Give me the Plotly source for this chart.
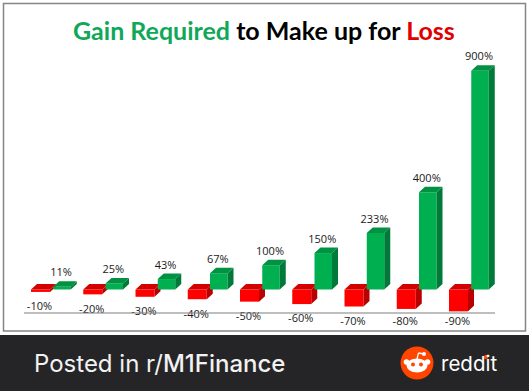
import plotly.graph_objects as go

# ---- data ----
losses = [-10, -20, -30, -40, -50, -60, -70, -80, -90]
gains = [11, 25, 43, 67, 100, 150, 233, 400, 900]
loss_labels = ["-10%", "-20%", "-30%", "-40%", "-50%", "-60%", "-70%", "-80%", "-90%"]
gain_labels = ["11%", "25%", "43%", "67%", "100%", "150%", "233%", "400%", "900%"]

W, H = 529, 391
PX_PER_X = 52.25
PX_PER_Y = 0.243
X_ORIGIN_PX = 40.5
Y_ORIGIN_PX = 289.5

x_range = [-X_ORIGIN_PX / PX_PER_X, (W - X_ORIGIN_PX) / PX_PER_X]
y_range = [-(H - Y_ORIGIN_PX) / PX_PER_Y, Y_ORIGIN_PX / PX_PER_Y]

RED_W = 19 / PX_PER_X
GREEN_W = 17.5 / PX_PER_X
GREEN_SHIFT = 21.5 / PX_PER_X
DX = 6 / PX_PER_X
DY = 5.5 / PX_PER_Y

idx = list(range(len(losses)))
green_x = [i + GREEN_SHIFT for i in idx]


def faces(xs, vals, width):
    side_x, side_y, top_x, top_y = [], [], [], []
    for x, v in zip(xs, vals):
        l, r = x - width / 2, x + width / 2
        high = max(0, v)
        side_x += [r, r + DX, r + DX, r, r, None]
        side_y += [0, DY, v + DY, v, 0, None]
        top_x += [l, l + DX, r + DX, r, l, None]
        top_y += [high, high + DY, high + DY, high, high, None]
    return side_x, side_y, top_x, top_y


def poly(x, y, color, xa, ya):
    return go.Scatter(x=x, y=y, mode="lines", fill="toself", fillcolor=color,
                      line=dict(width=0, color=color), hoverinfo="skip",
                      showlegend=False, xaxis=xa, yaxis=ya)


fig = go.Figure()

# losses on the lower axes pair
rs_x, rs_y, rt_x, rt_y = faces(idx, losses, RED_W)
fig.add_trace(go.Bar(x=idx, y=losses, width=RED_W, marker=dict(color="#FF0000", line=dict(width=0)),
                     showlegend=False, name="Loss", xaxis="x", yaxis="y"))
fig.add_trace(poly(rs_x, rs_y, "#B80000", "x", "y"))
fig.add_trace(poly(rt_x, rt_y, "#D40000", "x", "y"))

# gains on an overlaid pair, so they sit in front of the red depth faces
gs_x, gs_y, gt_x, gt_y = faces(green_x, gains, GREEN_W)
fig.add_trace(go.Bar(x=green_x, y=gains, width=GREEN_W, marker=dict(color="#00B050", line=dict(width=0)),
                     showlegend=False, name="Gain", xaxis="x2", yaxis="y2"))
fig.add_trace(poly(gs_x, gs_y, "#007A38", "x2", "y2"))
fig.add_trace(poly(gt_x, gt_y, "#009142", "x2", "y2"))

label_font = dict(family="Open Sans, sans-serif", size=11, color="#1a1a1a")
fig.add_trace(go.Scatter(x=[x - 1 / PX_PER_X for x in green_x], y=[v + 54 for v in gains],
                         text=gain_labels, mode="text", textposition="middle center",
                         textfont=label_font, showlegend=False, hoverinfo="skip",
                         xaxis="x2", yaxis="y2"))
fig.add_trace(go.Scatter(x=[i - 0.02 for i in idx], y=[max(v - 64, -134) for v in losses],
                         text=loss_labels, mode="text", textposition="middle center",
                         textfont=label_font, showlegend=False, hoverinfo="skip",
                         xaxis="x2", yaxis="y2"))


def px(x):
    return x / W


def py(y):
    return 1 - y / H


def rect(x0, y0, x1, y1, **kw):
    return dict(type="rect", xref="paper", yref="paper", x0=px(x0), x1=px(x1), y0=py(y0), y1=py(y1), **kw)


def oval(cx, cy, rx, ry, color):
    return dict(type="circle", xref="paper", yref="paper", x0=px(cx - rx), x1=px(cx + rx),
                y0=py(cy - ry), y1=py(cy + ry), fillcolor=color, line=dict(width=0))


def line(x0, y0, x1, y1, color, width):
    return dict(type="line", xref="paper", yref="paper", x0=px(x0), x1=px(x1), y0=py(y0), y1=py(y1),
                line=dict(color=color, width=width))


LOGO = "#FF4500"
shapes = [
    rect(3.5, 3.5, 525.5, 331, line=dict(color="#858585", width=1.5), fillcolor="rgba(0,0,0,0)", layer="below"),
    line(24, 313, 495, 313, "#7f7f7f", 1.2),
    rect(0, 335, W, H, fillcolor="#252527", line=dict(width=0)),
    oval(417, 363, 16.5, 16.5, LOGO),
    oval(417, 365.5, 10.5, 7, "#FFFFFF"),
    oval(406.5, 362, 2.8, 2.8, "#FFFFFF"),
    oval(427.5, 362, 2.8, 2.8, "#FFFFFF"),
    oval(413, 364.5, 2, 2, LOGO),
    oval(421, 364.5, 2, 2, LOGO),
    oval(424, 354, 2, 2, "#FFFFFF"),
    line(417, 359, 418.5, 353, "#FFFFFF", 1.3),
    line(418.5, 353, 424, 354, "#FFFFFF", 1.3),
    oval(486, 357, 2.2, 2.2, LOGO),
]

annotations = [
    dict(xref="paper", yref="paper", x=px(264), y=py(30), xanchor="center", yanchor="middle", showarrow=False,
         font=dict(family="Lato, Carlito, sans-serif", size=25, color="#000000"),
         text='<b><span style="color:#10A858">Gain Required</span> to Make up for '
              '<span style="color:#E00000">Loss</span></b>'),
    dict(xref="paper", yref="paper", x=px(32), y=py(363), xanchor="left", yanchor="middle", showarrow=False,
         font=dict(family="Inter, sans-serif", size=24, color="#F2F2F2"),
         text='Posted in r/<span style="font-weight:500">M1Finance</span>'),
    dict(xref="paper", yref="paper", x=px(439), y=py(363), xanchor="left", yanchor="middle", showarrow=False,
         font=dict(family="Inter, sans-serif", size=20.5, color="#FFFFFF"),
         text='<span style="font-weight:400">reddit</span>'),
]

axis = dict(visible=False, fixedrange=True)
fig.update_layout(
    width=W, height=H, autosize=False,
    margin=dict(l=0, r=0, t=0, b=0, pad=0),
    paper_bgcolor="#FFFFFF", plot_bgcolor="rgba(0,0,0,0)",
    barmode="overlay", showlegend=False,
    xaxis=dict(range=x_range, domain=[0, 1], **axis),
    yaxis=dict(range=y_range, domain=[0, 1], **axis),
    xaxis2=dict(range=x_range, domain=[0, 1], overlaying="x", anchor="y2", **axis),
    yaxis2=dict(range=y_range, domain=[0, 1], overlaying="y", anchor="x2", **axis),
    shapes=shapes, annotations=annotations,
)

fig.write_html("out.html", config={"displayModeBar": False},
               post_script="document.body.style.margin='0';document.body.style.overflow='hidden';")
